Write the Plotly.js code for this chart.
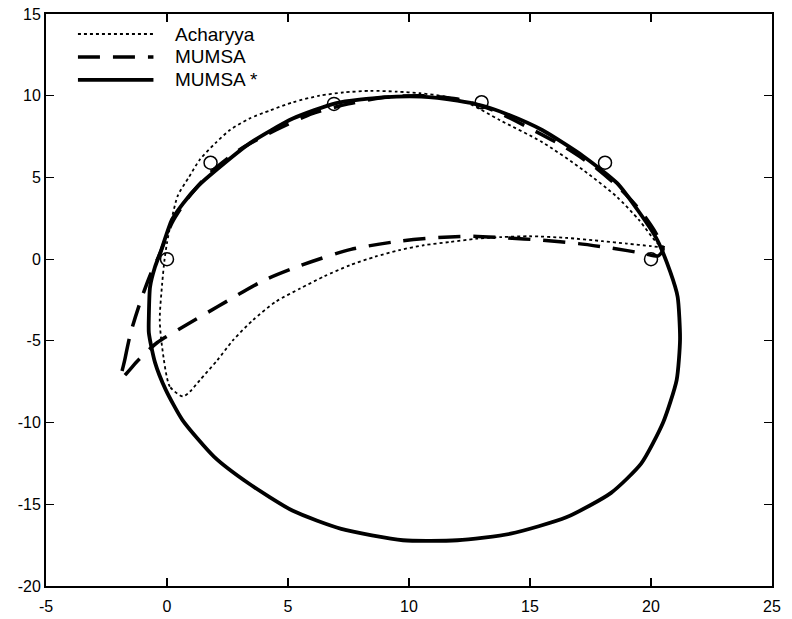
<!DOCTYPE html>
<html>
<head>
<meta charset="utf-8">
<script src="https://cdn.plot.ly/plotly-3.0.1.min.js"></script>
<style>body{margin:0;padding:0;background:#fff}#chart{width:792px;height:619px}</style>
</head>
<body>
<div id="chart"></div>
<script>
// Acharyya (dotted)
const acharyyaX = [0.66, 0.12, -0.2, -0.3, -0.2, -0.1, 0.0, 0.2, 0.45, 0.9, 1.36, 2.0, 2.6, 3.4, 4.26, 5.2, 6.3, 7.3, 8.4, 9.5, 10.45, 11.5, 12.5, 13.76, 15.5, 17.2, 18.6, 19.5, 20.25, 20.6, 20.0, 19.0, 18.0, 16.5, 15.0, 13.8, 12.8, 11.7, 10.6, 9.6, 8.6, 7.56, 6.5, 5.5, 4.5, 3.55, 2.73, 2.07, 1.36, 0.95, 0.66];
const acharyyaY = [-8.4, -7.8, -5.4, -3.7, -1.5, 0.0, 1.0, 2.5, 3.9, 5.0, 6.1, 7.1, 7.9, 8.6, 9.1, 9.6, 10.0, 10.2, 10.3, 10.25, 10.15, 9.95, 9.5, 8.5, 7.16, 5.45, 3.8, 2.4, 1.0, 0.7, 0.8, 0.95, 1.1, 1.3, 1.4, 1.35, 1.25, 1.05, 0.85, 0.55, 0.15, -0.37, -1.05, -1.8, -2.6, -3.73, -4.96, -6.2, -7.4, -8.1, -8.4];
// MUMSA (dashed)
const mumsaX = [-1.9, -1.75, -1.5, -1.1, -0.7, -0.3, 0.2, 0.9, 1.8, 3.0, 4.5, 6.0, 7.5, 9.0, 10.5, 12.0, 13.5, 15.0, 16.5, 17.8, 18.8, 19.6, 20.2, 20.5, 20.3, 19.7, 18.4, 17.0, 15.5, 14.0, 12.5, 11.0, 9.6, 7.6, 5.5, 4.0, 2.1, 0.6, -0.4, -1.2, -1.9];
const mumsaY = [-7.3, -6.2, -4.5, -2.6, -1.0, 0.3, 2.2, 3.8, 5.3, 6.7, 7.9, 8.9, 9.5, 9.9, 10.0, 9.8, 9.1, 8.0, 6.8, 5.5, 4.2, 2.9, 1.6, 0.6, 0.2, 0.35, 0.67, 0.95, 1.16, 1.3, 1.4, 1.3, 1.1, 0.6, -0.4, -1.3, -2.9, -4.2, -5.1, -6.2, -7.3];
// MUMSA * (solid)
const mumsaStarX = [-0.75, -0.7, -0.5, -0.25, 0.2, 0.66, 1.3, 2.07, 3.43, 5.2, 7.0, 8.9, 10.5, 12.0, 13.0, 14.0, 15.5, 17.2, 18.6, 19.5, 20.25, 20.8, 21.1, 21.2, 21.06, 20.5, 19.6, 18.35, 16.5, 14.2, 12.0, 9.75, 7.2, 5.2, 3.35, 1.95, 0.64, -0.05, -0.5, -0.75, -0.75];
const mumsaStarY = [-3.5, -1.7, -0.5, 0.5, 2.4, 3.4, 4.5, 5.5, 7.1, 8.6, 9.55, 9.9, 9.95, 9.7, 9.4, 8.9, 7.9, 6.3, 4.65, 2.9, 1.2, -0.8, -2.3, -4.9, -7.4, -10.0, -12.5, -14.3, -15.8, -16.8, -17.2, -17.2, -16.5, -15.4, -13.7, -12.1, -9.85, -8.0, -6.3, -4.5, -3.5];
// reference points (open circles)
const pointsX = [0, 1.8, 6.9, 13.0, 18.1, 20.0];
const pointsY = [0, 5.9, 9.5, 9.6, 5.9, 0];

const seriesNames = ['Acharyya', 'MUMSA', 'MUMSA *'];

const xTickVals = [-5, 0, 5, 10, 15, 20, 25];
const xTickText = ['-5', '0', '5', '10', '15', '20', '25'];
const yTickVals = [-20, -15, -10, -5, 0, 5, 10, 15];
const yTickText = ['-20', '-15', '-10', '-5', '0', '5', '10', '15'];

const FONT = 'Liberation Sans, Arial, sans-serif';

const lineStyles = [
  {color: '#000', width: 1.8, dash: '3px,3px'},
  {color: '#000', width: 3.5, dash: '22px,13px'},
  {color: '#000', width: 3.8, dash: 'solid'}
];

const traces = [
  {x: acharyyaX, y: acharyyaY, name: seriesNames[0], mode: 'lines',
   line: Object.assign({shape: 'spline', smoothing: 0.7}, lineStyles[0])},
  {x: mumsaX, y: mumsaY, name: seriesNames[1], mode: 'lines',
   line: Object.assign({shape: 'spline', smoothing: 0.7}, lineStyles[1])},
  {x: mumsaStarX, y: mumsaStarY, name: seriesNames[2], mode: 'lines',
   line: Object.assign({shape: 'spline', smoothing: 0.6}, lineStyles[2])},
  {x: pointsX, y: pointsY, mode: 'markers', name: 'points',
   marker: {symbol: 'circle-open', size: 13, color: '#000', line: {width: 1.5, color: '#000'}}}
];

const axisCommon = {
  showgrid: false, zeroline: false, showline: true, linecolor: '#000', linewidth: 2,
  mirror: 'ticks', ticks: 'inside', ticklen: 8, tickwidth: 1.2, tickcolor: '#000',
  tickfont: {family: FONT, size: 16, color: '#000'}, tickmode: 'array'
};

// manual legend (paper coordinates of the plot area)
const legendRowsY = [0.965, 0.925, 0.885];
const shapes = [];
const annotations = [];
seriesNames.forEach((nm, i) => {
  shapes.push({type: 'line', xref: 'paper', yref: 'paper', x0: 0.044, x1: 0.148,
               y0: legendRowsY[i], y1: legendRowsY[i], line: lineStyles[i]});
  annotations.push({xref: 'paper', yref: 'paper', x: 0.175, y: legendRowsY[i],
                    xanchor: 'left', yanchor: 'middle', showarrow: false, text: nm,
                    font: {family: FONT, size: 19, color: '#000'}});
});

const layout = {
  width: 792, height: 619,
  margin: {l: 46, r: 20, t: 14, b: 33, pad: 0},
  paper_bgcolor: '#fff', plot_bgcolor: '#fff',
  font: {family: FONT, color: '#000'},
  xaxis: Object.assign({}, axisCommon, {range: [-5, 25], tickvals: xTickVals, ticktext: xTickText, ticklabelstandoff: 5}),
  yaxis: Object.assign({}, axisCommon, {range: [-20, 15], tickvals: yTickVals, ticktext: yTickText}),
  showlegend: false,
  shapes: shapes,
  annotations: annotations
};

Plotly.newPlot('chart', traces, layout, {displayModeBar: false, staticPlot: true});
</script>
</body>
</html>
